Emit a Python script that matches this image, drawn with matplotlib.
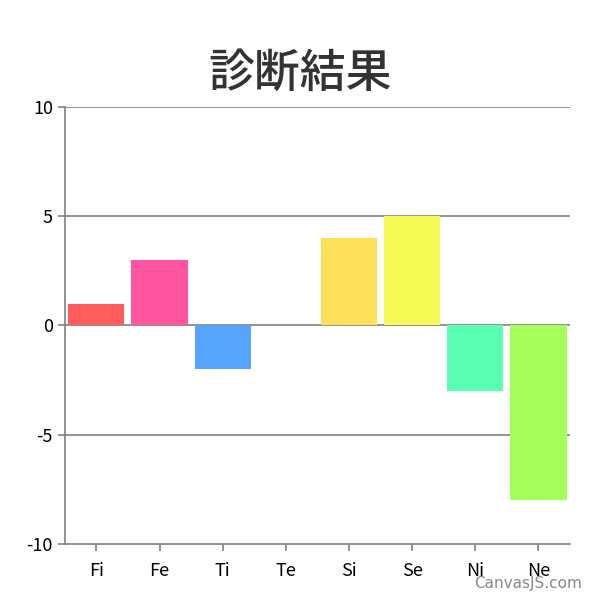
import matplotlib
matplotlib.use('Agg')
import matplotlib.pyplot as plt

# data
categories = ['Fi', 'Fe', 'Ti', 'Te', 'Si', 'Se', 'Ni', 'Ne']
values = [1, 3, -2, 0, 4, 5, -3, -8]
colours = ['#FF5C5C', '#FF55A0', '#55A5FF', '#CCCCCC', '#FFE05A', '#F5FA55', '#5AFFB4', '#A5FF5A']

plt.rcParams['font.family'] = ['Noto Sans CJK JP', 'DejaVu Sans']

fig = plt.figure(figsize=(6, 5.99), dpi=100)
ax = fig.add_axes([0.108, 0.0918, 0.842, 0.7296])

ax.bar(range(len(categories)), values, width=0.89, color=colours, zorder=3)

ax.set_xlim(-0.5, len(categories) - 0.5)
ax.set_ylim(-10, 10)
ax.set_yticks([-10, -5, 0, 5, 10])
ax.set_yticklabels(['-10', '-5', '0', '5', '10'])
ax.set_xticks(range(len(categories)))
ax.set_xticklabels(categories)

for y in [10, 5, 0, -5]:
    ax.axhline(y, color='#808080', lw=1.2, zorder=1)

for s in ['top', 'right']:
    ax.spines[s].set_visible(False)
for s in ['left', 'bottom']:
    ax.spines[s].set_color('#808080')
    ax.spines[s].set_linewidth(1.2)

ax.tick_params(axis='both', colors='#808080', labelcolor='black', labelsize=13, length=5, width=1.2)
ax.tick_params(axis='x', pad=8)

fig.text(0.5, 0.878, '診断結果', ha='center', va='center', fontsize=33, color='#333333',
         fontweight='medium')
fig.text(0.97, 0.026, 'CanvasJS.com', ha='right', va='center', fontsize=11, color='#888888',
         family='DejaVu Sans')

fig.savefig('out.png', dpi=100)
plt.close()
